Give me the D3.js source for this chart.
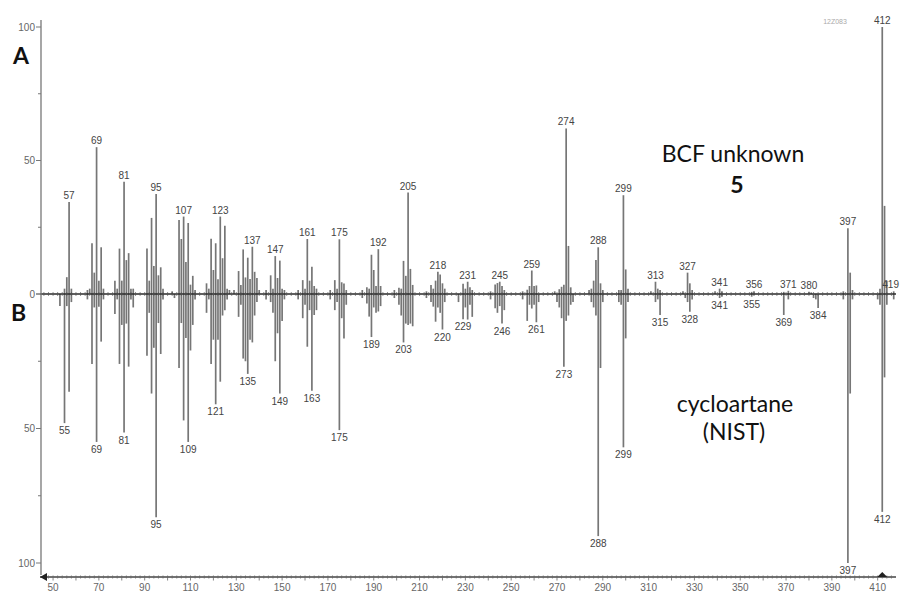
<!DOCTYPE html>
<html>
<head>
<meta charset="utf-8">
<script src="https://cdn.jsdelivr.net/npm/d3@7"></script>
<style>
  body { margin: 0; background: #fff; }
  svg { display: block; }
</style>
</head>
<body>
<svg id="chart" width="901" height="592"></svg>
<script>

// spectrum A (BCF unknown 5), m/z and relative intensity
const topMz  = [55,56,57,58, 65,66,67,68,69,70,71,72, 77,78,79,80,81,82,83,84,85,
  91,92,93,94,95,96,97,98, 102,105,106,107,108,109,110,111,112,
  117,118,119,120,121,122,123,124,125,126,127, 129,131,132,133,134,135,136,137,138,139,140,
  143,145,146,147,148,149,150,151, 157,159,160,161,162,163,164,165,
  171,173,174,175,176,177,178, 185,187,188,189,190,191,192,193,
  199,201,202,203,204,205,206,207, 213,215,216,217,218,219,220,221,
  229,230,231,232,233, 241,243,244,245,246,247, 255,257,258,259,260,261,
  269,271,272,273,274,275,276, 284,285,286,287,288,289,290, 297,298,299,300,301,
  311,313,314,315, 325,327,328,329, 339,341,342, 355,356, 369,371, 380,381,
  395,397,398,399, 411,412,413,414, 417]
const topInt = [2,6.3,34.5,2, 1.5,2,19,8,55,5,17.5,2, 5,2,17,5,42,12.7,15.3,2,2,
  17,5,28.5,10.5,37.5,7,10,2, 1,27.7,20.6,29,12,26.6,3.5,6.8,1.5,
  4,2,20.7,9,19,5.5,29,13.4,25.6,2,1.5, 1.5,8.6,3.4,16.7,6.2,13.6,5.6,17.7,8.3,6,1.5,
  1.5,7,2,14.2,6,12.5,2,1.5, 1.5,5.2,2,20.6,5,10.2,3,2,
  1.5,5.2,2,20.5,4.4,3.9,1.5, 1.5,2.5,2,14.7,9,3,16.8,3,
  1.5,2.3,2,12.4,6.8,38,9.4,3.4, 1,3.4,2,5,8.3,7.3,4,2,
  3.8,2,4.6,2.5,1.5, 1,3.6,4.1,4.6,3,1.5, 1,1.6,3,8.8,3,3.2,
  1,1.8,2.7,3.5,62,18,2.5, 1.5,2,5,12.7,17.5,4,1.5, 1.5,1.5,37,9.2,2,
  1,4.6,2,1.5, 1,8,4,1.5, 1,2,1, 0.8,1, 0.8,1.2, 0.8,0.6,
  1,24.6,8,1.5, 2,100,33,5, 1]

// spectrum B (cycloartane, NIST library)
const botMz  = [53,55,56,57,58, 65,67,68,69,70,71,72, 77,78,79,80,81,82,83,84,85,
  91,92,93,94,95,96,97,98, 103,105,106,107,108,109,110,111,112,
  117,118,119,120,121,122,123,124,125,126, 131,132,133,134,135,136,137,138,139,
  143,145,146,147,148,149,150,151, 157,159,160,161,162,163,164,165,
  171,173,174,175,176,177,178, 185,187,188,189,190,191,192,193,
  199,201,202,203,204,205,206,207, 213,215,216,217,218,219,220,221,
  227,229,230,231,232,233, 241,243,244,245,246,247, 255,257,258,259,260,261,262,
  270,271,272,273,274,275,276,277, 285,286,287,288,289,290, 297,298,299,300,301,
  313,314,315, 326,327,328,329, 341,342, 355,356, 369,371, 382,383,384,
  395,397,398,399, 410,411,412,413,414, 417]
const botInt = [4.5,48,4.5,36.3,3, 2,26,5,55,4.7,17.7,2, 7.4,2,26,11.5,51.5,11,27,2,5,
  23,7,37,20,83,10.8,22.3,2, 1.5,27.5,10.8,47,16.4,55,21,11.5,2,
  7,2,26,17,41,17,32.6,8,6,2, 8.5,4,24,25,29.7,17,18,8,3,
  2,3,7,25,14.6,37,10,2, 2,9,4,19.6,6,36,7.8,6,
  2,6,3,50.6,9,16.5,4, 1.5,3.5,8.4,16,5,7,6.5,4.5,
  1.5,4,8,18,11,11.5,11,12, 1.5,3,4.7,10.3,5,7,13.2,3,
  3,9.4,5,9.5,4,8.5, 2,5.3,7,4.5,11,6, 2,10,4,5.4,4,10.5,3,
  3,5,9,27,10,8,4,3, 3,5,8,90,27.5,3, 3,4,57,16.5,3,
  3,2,7.8, 1.5,3,6.6,2, 1.5,1, 1,0.5, 7.8,2, 1.5,2,5.2,
  2,100,37,2, 2,4,81,31,4, 2]

// labelled peaks (the 419 label of spectrum A sits over the small peak at the right edge)
const topLabels = [57,69,81,95,107,123,137,147,161,175,192,205,218,231,245,259,274,288,299,313,327,341,356,371,380,397,412]
const botLabels = [55,69,81,95,109,121,135,149,163,175,189,203,220,229,246,261,273,288,299,315,328,341,355,369,384,397,412]

const xTicks = d3.range(50, 411, 20)
const yTicks = [0, 25, 50, 75, 100]
const yLabels = [0, 50, 100]


const svg = d3.select("#chart")

const x    = d3.scaleLinear().domain([44.3, 418]).range([40, 896])
const yTop = d3.scaleLinear().domain([0, 100]).range([294, 27])
const yBot = d3.scaleLinear().domain([0, 100]).range([294, 563])

const topData = topMz.map((m, i) => ({ mz: m, v: topInt[i] }))
const botData = botMz.map((m, i) => ({ mz: m, v: botInt[i] }))

const barColor  = "#767676"
const textColor = "#444"
const numFont   = "'Liberation Sans', Arial, sans-serif"


// bars
svg.append("g").selectAll("line")
  .data(topData).join("line")
    .attr("x1", d => x(d.mz)).attr("x2", d => x(d.mz))
    .attr("y1", yTop(0)).attr("y2", d => yTop(d.v))
    .attr("stroke", barColor).attr("stroke-width", 1.7)

svg.append("g").selectAll("line")
  .data(botData).join("line")
    .attr("x1", d => x(d.mz)).attr("x2", d => x(d.mz))
    .attr("y1", yBot(0)).attr("y2", d => yBot(d.v))
    .attr("stroke", barColor).attr("stroke-width", 1.7)


// baseline with its little ticks
svg.append("line")
  .attr("x1", x.range()[0]).attr("x2", x.range()[1])
  .attr("y1", yTop(0)).attr("y2", yTop(0))
  .attr("stroke", "#2a2a2a").attr("stroke-width", 1.6)

svg.append("g").selectAll("line")
  .data(d3.range(46, 418, 2)).join("line")
    .attr("x1", d => x(d)).attr("x2", d => x(d))
    .attr("y1", yTop(0) - 1.8).attr("y2", yTop(0) + 1.8)
    .attr("stroke", "#555").attr("stroke-width", 0.8)


// peak labels
svg.append("g").selectAll("text")
  .data(topLabels).join("text")
    .attr("x", d => x(d))
    .attr("y", d => yTop(topInt[topMz.indexOf(d)]) - 3)
    .attr("text-anchor", "middle")
    .attr("font-family", numFont).attr("font-size", 10)
    .attr("fill", textColor)
    .text(d => d)

svg.append("text")
  .attr("x", 899).attr("y", yTop(1) - 3)
  .attr("text-anchor", "end")
  .attr("font-family", numFont).attr("font-size", 10)
  .attr("fill", textColor)
  .text("419")

svg.append("g").selectAll("text")
  .data(botLabels).join("text")
    .attr("x", d => x(d))
    .attr("y", d => yBot(botInt[botMz.indexOf(d)]) + 11)
    .attr("text-anchor", "middle")
    .attr("font-family", numFont).attr("font-size", 10)
    .attr("fill", textColor)
    .text(d => d)


// y axis (mirrored)
const axisX = 41
svg.append("line")
  .attr("x1", axisX).attr("x2", axisX)
  .attr("y1", 20).attr("y2", 575)
  .attr("stroke", "#777").attr("stroke-width", 1.3)

const gy = svg.append("g")
;[yTop, yBot].forEach(sc => {
  gy.append("g").selectAll("line")
    .data(yTicks).join("line")
      .attr("x1", d => axisX - (d % 50 === 0 ? 5 : 3)).attr("x2", axisX)
      .attr("y1", d => sc(d)).attr("y2", d => sc(d))
      .attr("stroke", "#777").attr("stroke-width", 1)
  gy.append("g").selectAll("text")
    .data(sc === yTop ? yLabels : yLabels.slice(1)).join("text")
      .attr("x", axisX - 6)
      .attr("y", d => sc(d) + 3.5)
      .attr("text-anchor", "end")
      .attr("font-family", numFont).attr("font-size", 10)
      .attr("fill", "#666")
      .text(d => d)
})


// x axis
const axisY = 577
svg.append("line")
  .attr("x1", 40).attr("x2", 896)
  .attr("y1", axisY).attr("y2", axisY)
  .attr("stroke", "#444").attr("stroke-width", 1.3)

svg.append("g").selectAll("line")
  .data(d3.range(46, 418, 2)).join("line")
    .attr("x1", d => x(d)).attr("x2", d => x(d))
    .attr("y1", axisY - 1.5).attr("y2", d => axisY + (d % 10 === 0 ? 3.5 : 1.5))
    .attr("stroke", "#666").attr("stroke-width", 0.8)

svg.append("g").selectAll("text")
  .data(xTicks).join("text")
    .attr("x", d => x(d))
    .attr("y", 591)
    .attr("text-anchor", "middle")
    .attr("font-family", numFont).attr("font-size", 10)
    .attr("fill", "#666")
    .text(d => d)

// arrow heads on the x axis
svg.append("path")
  .attr("d", `M${40},${axisY} l7,-4 l0,8 z`)
  .attr("fill", "#222")
svg.append("path")
  .attr("d", `M${x(412)},${axisY - 5} l-5,5 l10,0 z`)
  .attr("fill", "#222")


// annotations
const annoFont = "Lato, 'Open Sans', sans-serif"
svg.append("text").attr("x", 13).attr("y", 64)
  .attr("font-family", annoFont).attr("font-weight", "bold").attr("font-size", 23)
  .attr("fill", "#111").text("A")
svg.append("text").attr("x", 11).attr("y", 321)
  .attr("font-family", annoFont).attr("font-weight", "bold").attr("font-size", 23)
  .attr("fill", "#111").text("B")

svg.append("text").attr("x", 733).attr("y", 162)
  .attr("text-anchor", "middle")
  .attr("font-family", annoFont).attr("font-size", 23)
  .attr("fill", "#111").text("BCF unknown")
svg.append("text").attr("x", 737).attr("y", 193)
  .attr("text-anchor", "middle")
  .attr("font-family", annoFont).attr("font-weight", "bold").attr("font-size", 23)
  .attr("fill", "#111").text("5")

svg.append("text").attr("x", 735).attr("y", 412)
  .attr("text-anchor", "middle")
  .attr("font-family", annoFont).attr("font-size", 23)
  .attr("fill", "#111").text("cycloartane")
svg.append("text").attr("x", 734).attr("y", 440)
  .attr("text-anchor", "middle")
  .attr("font-family", annoFont).attr("font-size", 23)
  .attr("fill", "#111").text("(NIST)")

svg.append("text").attr("x", 835).attr("y", 24)
  .attr("text-anchor", "middle")
  .attr("font-family", numFont).attr("font-size", 7)
  .attr("fill", "#aaa").text("12Z083")

</script>
</body>
</html>
